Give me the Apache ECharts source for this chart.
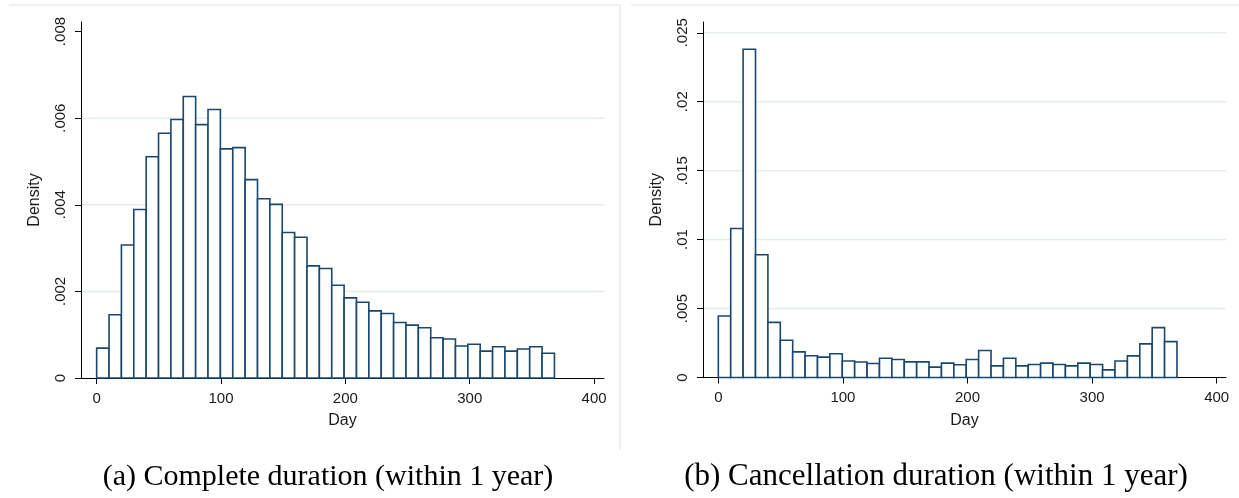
<!DOCTYPE html>
<html>
<head>
<meta charset="utf-8">
<script src="https://cdn.jsdelivr.net/npm/echarts@6/dist/echarts.min.js"></script>
<style>
html,body{margin:0;padding:0;background:#fff;}
#chart{width:1239px;height:498px;}
</style>
</head>
<body>
<div id="chart"></div>
<script>
// ---- data ----
const binStart = 0;          // first bin edge (days)
const binWidth = 9.95;       // bin width (days)
const completeDensity = [0.00069, 0.00146, 0.00307, 0.00389, 0.00511, 0.00565, 0.00597, 0.00650, 0.00585, 0.00620,
  0.00529, 0.00532, 0.00458, 0.00414, 0.00401, 0.00336, 0.00325, 0.00259, 0.00253, 0.00214,
  0.00185, 0.00175, 0.00155, 0.00149, 0.00128, 0.00122, 0.00116, 0.00093, 0.00090, 0.00074,
  0.00078, 0.00062, 0.00072, 0.00062, 0.00067, 0.00072, 0.00057];
const cancelDensity = [0.00446, 0.01080, 0.02380, 0.00890, 0.00400, 0.00270, 0.00186, 0.00158, 0.00148, 0.00172,
  0.00120, 0.00112, 0.00102, 0.00140, 0.00130, 0.00113, 0.00113, 0.00075, 0.00104, 0.00092,
  0.00130, 0.00196, 0.00084, 0.00140, 0.00084, 0.00094, 0.00104, 0.00094, 0.00084, 0.00104,
  0.00094, 0.00055, 0.00120, 0.00157, 0.00244, 0.00362, 0.00260];
const xTicks = [0, 100, 200, 300, 400];
const yTicksA = [0, 0.002, 0.004, 0.006, 0.008];
const yLabelsA = ['0', '.002', '.004', '.006', '.008'];
const yGridA = [0.002, 0.004, 0.006];
const yTicksB = [0, 0.005, 0.01, 0.015, 0.02, 0.025];
const yLabelsB = ['0', '.005', '.01', '.015', '.02', '.025'];
const yGridB = [0.005, 0.01, 0.015, 0.02, 0.025];
const xName = 'Day';
const yName = 'Density';
const captionA = '(a) Complete duration (within 1 year)';
const captionB = '(b) Cancellation duration (within 1 year)';

// ---- build ----
function bins(vals) {
  return vals.map((v, i) => [binStart + i * binWidth, binStart + (i + 1) * binWidth, v]);
}
const NAVY = '#1a476f';
const TXT = '#1a1a1a';
const GRIDC = '#e4edf0';

function renderBar(params, api) {
  const p0 = api.coord([api.value(0), api.value(2)]);
  const p1 = api.coord([api.value(1), 0]);
  return {
    type: 'rect',
    shape: { x: p0[0], y: p0[1], width: p1[0] - p0[0], height: p1[1] - p0[1] },
    style: { fill: '#ffffff', stroke: NAVY, lineWidth: 1.6 }
  };
}
function renderGrid(params, api) {
  const cs = params.coordSys;
  const y = api.coord([0, api.value(1)])[1];
  return {
    type: 'line',
    shape: { x1: cs.x + 1, y1: y, x2: cs.x + cs.width, y2: y },
    style: { stroke: GRIDC, lineWidth: 1.5 }
  };
}

function xAxisCfg(idx, min, max) {
  return {
    type: 'value', gridIndex: idx, min: min, max: max,
    name: xName, nameLocation: 'middle', nameGap: 35,
    nameTextStyle: { fontFamily: 'Liberation Sans', fontSize: 16, color: TXT },
    axisLine: { show: true, onZero: false, lineStyle: { color: '#000', width: 1 } },
    axisTick: { show: true, length: 6, customValues: xTicks, lineStyle: { color: '#000' } },
    axisLabel: { customValues: xTicks, margin: 13, fontFamily: 'Liberation Sans', fontSize: 15, color: TXT },
    splitLine: { show: false }
  };
}
function yAxisCfg(idx, max, ticks, labels) {
  return {
    type: 'value', gridIndex: idx, min: 0, max: max,
    name: yName, nameLocation: 'middle', nameGap: 38,
    nameTextStyle: { fontFamily: 'Liberation Sans', fontSize: 16, color: TXT },
    axisLine: { show: true, onZero: false, lineStyle: { color: '#000', width: 1 } },
    axisTick: { show: true, length: 6, customValues: ticks, lineStyle: { color: '#000' } },
    axisLabel: {
      customValues: ticks, rotate: 90, margin: 13,
      fontFamily: 'Liberation Sans', fontSize: 15, color: TXT,
      formatter: function (v) {
        let best = 0;
        ticks.forEach((t, i) => { if (Math.abs(t - v) < Math.abs(ticks[best] - v)) best = i; });
        return labels[best];
      }
    },
    splitLine: { show: false }
  };
}

const chart = echarts.init(document.getElementById('chart'), null, { renderer: 'canvas' });
chart.setOption({
  backgroundColor: '#ffffff',
  animation: false,
  grid: [
    { left: 81, top: 22, width: 523, height: 356 },
    { left: 703, top: 22, width: 523, height: 355.5 }
  ],
  xAxis: [xAxisCfg(0, -12.6, 408), xAxisCfg(1, -12.3, 407.5)],
  yAxis: [yAxisCfg(0, 0.00822, yTicksA, yLabelsA), yAxisCfg(1, 0.02578, yTicksB, yLabelsB)],
  series: [
    {
      type: 'custom', xAxisIndex: 0, yAxisIndex: 0, renderItem: renderGrid, silent: true,
      encode: { x: 0, y: 1 }, data: yGridA.map(v => [0, v]), z: 1
    },
    {
      type: 'custom', xAxisIndex: 1, yAxisIndex: 1, renderItem: renderGrid, silent: true,
      encode: { x: 0, y: 1 }, data: yGridB.map(v => [0, v]), z: 1
    },
    {
      type: 'custom', xAxisIndex: 0, yAxisIndex: 0, renderItem: renderBar,
      encode: { x: [0, 1], y: 2 }, data: bins(completeDensity), z: 3
    },
    {
      type: 'custom', xAxisIndex: 1, yAxisIndex: 1, renderItem: renderBar,
      encode: { x: [0, 1], y: 2 }, data: bins(cancelDensity), z: 3
    }
  ],
  graphic: [
    { type: 'line', shape: { x1: 9, y1: 5, x2: 620, y2: 5 }, style: { stroke: '#e6edf1', lineWidth: 1.5 }, silent: true },
    { type: 'line', shape: { x1: 620, y1: 5, x2: 620, y2: 450 }, style: { stroke: '#e6edf1', lineWidth: 1.5 }, silent: true },
    { type: 'line', shape: { x1: 631, y1: 5, x2: 1239, y2: 5 }, style: { stroke: '#e6edf1', lineWidth: 1.5 }, silent: true },
    { type: 'text', x: 328, y: 477, style: { text: captionA, font: '30px "Liberation Serif"', fill: '#000', textAlign: 'center', textVerticalAlign: 'middle' } },
    { type: 'text', x: 936, y: 477, style: { text: captionB, font: '31px "Liberation Serif"', fill: '#000', textAlign: 'center', textVerticalAlign: 'middle' } }
  ]
});
</script>
</body>
</html>
